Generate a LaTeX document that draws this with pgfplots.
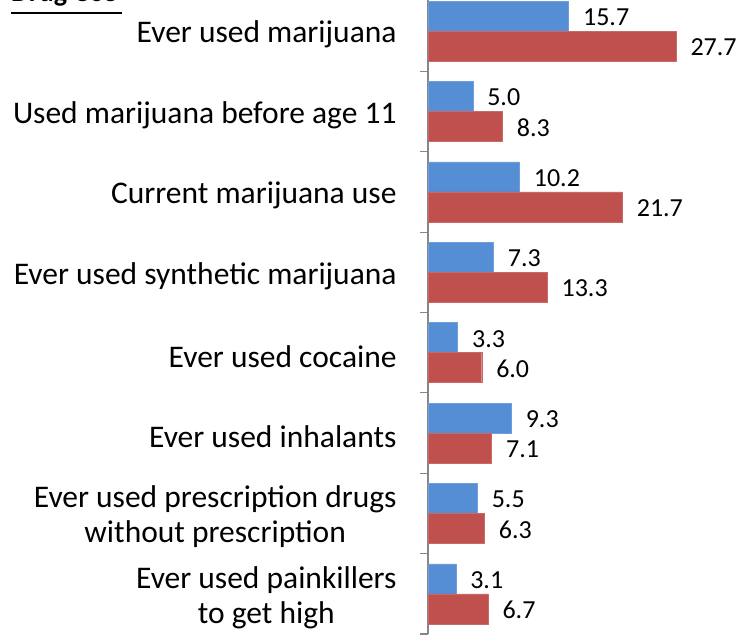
\documentclass[border=0pt]{standalone}
\usepackage{pgfplots}
\pgfplotsset{compat=1.18}
\usepackage{fontspec}
\setmainfont{Carlito}
\definecolor{cblue}{RGB}{85,142,213}
\definecolor{cred}{RGB}{192,80,77}
\definecolor{axgray}{RGB}{134,134,134}
\begin{document}
\begin{tikzpicture}[x=1pt,y=1pt]
\useasboundingbox (0,0) rectangle (741,-634);
\node[anchor=base west,inner sep=0pt,font=\fontsize{28}{34}\selectfont\bfseries] at (11,-2) {Drug Use};
\draw[line width=2pt] (11,-13) -- (122,-13);
\begin{axis}[
  at={(428pt,9pt)}, anchor=north west,
  scale only axis, width=308pt, height=643pt,
  xbar, bar width=30pt,
  xmin=0, xmax=34.4,
  ymin=-0.5, ymax=7.5,
  hide x axis,
  axis y line*=left,
  y axis line style={axgray, line width=1.2pt, -},
  ytick={0,...,7},
  yticklabels={{Ever used painkillers\\to get high},{Ever used prescription drugs\\without prescription},{Ever used inhalants},{Ever used cocaine},{Ever used synthetic marijuana},{Current marijuana use},{Used marijuana before age 11},{Ever used marijuana}},
  y tick label style={align=center, font=\fontsize{31.5}{35}\selectfont, inner sep=0pt, xshift=-27pt, yshift=-3.5pt},
  major y tick style={draw=none},
  minor ytick={-0.5,0.5,...,7.5},
  minor tick length=8pt,
  tick align=outside,
  minor y tick style={axgray, line width=1.2pt},
  point meta=x,
  nodes near coords={\pgfmathprintnumber[fixed,fixed zerofill,precision=1,assume math mode=true]{\pgfplotspointmeta}},
  nodes near coords align={horizontal},
  every node near coord/.append style={font=\fontsize{26}{30}\selectfont, xshift=11pt, yshift=-1pt},
  /pgf/number format/assume math mode=true,
]
\addplot[fill=cblue, draw=cblue!85!white, bar shift=15pt] coordinates {
(3.1,0) (5.5,1) (9.3,2) (3.3,3) (7.3,4) (10.2,5) (5.0,6) (15.7,7)};
\addplot[fill=cred, draw=cred!85!white, bar shift=-15pt] coordinates {
(6.7,0) (6.3,1) (7.1,2) (6.0,3) (13.3,4) (21.7,5) (8.3,6) (27.7,7)};
\end{axis}
\end{tikzpicture}
\end{document}
